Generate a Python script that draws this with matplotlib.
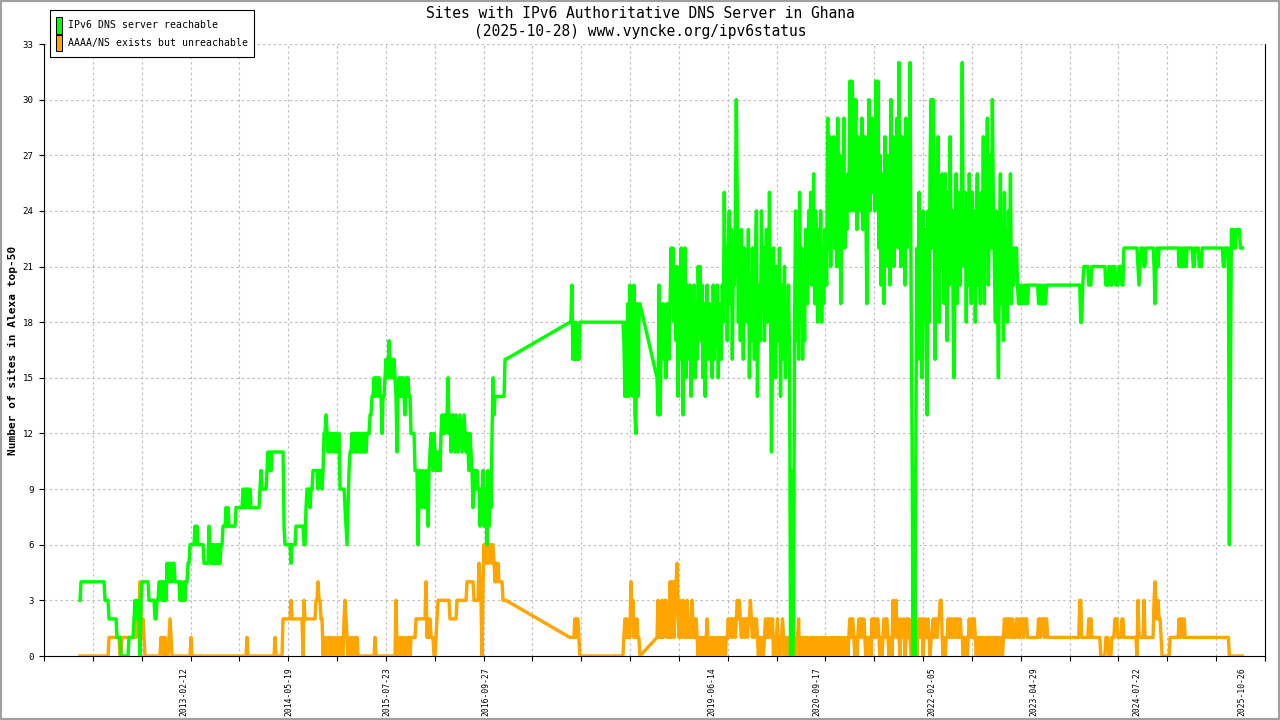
import numpy as np
import pandas as pd
import matplotlib
matplotlib.use("Agg")
import matplotlib.pyplot as plt
import matplotlib.dates as mdates
from matplotlib.patches import Rectangle

W, H = 1280, 720
MONO = ["DejaVu Sans Mono", "DejaVu Sans"]
GREEN = "#00ff00"
ORANGE = "#ffa500"

# the feed has two holes; the original simply joins across them with a straight line
SEG_DATES = [("2011-11-14", "2016-12-25"),
             ("2017-10-01", "2018-08-04"),
             ("2018-10-18", "2025-10-28")]

# values, evenly spaced inside each window
# notation: "v" or "v*n" (v repeated n times)
GREEN_1 = """
3 4*24 3*4 2*8 1*4 0*8 1*5 2 3 2 3 3 2 0 3 4*7 3*6 2*2 3*2 4*3
3 4 3 4 3 5 4 5 4 5 4 5 5 4 4 4*3 3 4 3 3 4 3 4 4 5 5
6*5 7 6 7 6 6*5 5*5 7 6 5 6 5 6 5 5 6 5 6 5 6 6 7 7 7 8 7 8 7 7 7*5 8*7
9 8 9 8 9 9 8 9 8 8 8*7 9 10 9 9 9 9 9 10 11 10 11 10 11 11 11*10
7 6*6 5 6*4 7*8 6 6 8 9 9 9 8 9 9 10 10 10 10 10 9 10 10 10 9 10
12 12 13 12 11 12 11 12 12 11 12 11 12 11 11 12 9*5 8 7 6 8 10 11 11
12 11 12 12 11 12 12 11 12 11 11 12 11 12 11 12 12 12 13 13 14 14
15 14 15 15 14 15 14 14 12 14 14 15 16 15 15 17 16 15 16 15 16 15
14 11 14 15 14 15 14 15 14 13 15 14 15 14 14 12*4 10*3 6
9 10 9 8 10 9 8 10 9 7 10 11 12 11 10 12 11 10 11 10 11 10
12 13 12 13 12 13 13 15 12 13 11 12 13 12 11 13 12 11 12 13 12 11 12 13 12 11 12
11 10 12 11 10 8 9 10 9 10 9 9 7 9 8 10 7 9 8 6 10 7 9 8 12 15 13 14 14*9 16 16
"""
GREEN_2 = """
18 18 20 16 18 16 18 16 17 16 18 18*43
17 14 18 14 19 14 20 16 19 14 20 13 12 19 14 18 19
"""
GREEN_3 = """
15 13 20 13 16 17 19 16 18 15 19 17 16 19 22 19 22 18 21
17 21 14 20 16 22 18 13 19 22 15 20 17
16 20 14 19 17 20 15 18 16 21 19 21 17 20 15 19 14 18 20 16 19 17
18 15 20 16 19 17 20 15 18 19 16 20 18 25 19 22
17 22 24 19 23 16 21 20 24 30 24 18 22 17 23 20 16 22 19 21
18 23 15 20 17 22 19 16 21 24 14 18 20 17
24 19 22 17 21 23 18 20 25 19 11 16 22
18 15 21 19 17 22 14 20 16 19 21 15 18 17 20 16 0 10 0 2 18
24 17 21 16 25 19 22 16 20 17 23 21 19 24 21 25 20 23 26 19 24 22
18 23 20 24 18 22 19 23 21 20 29 22 28 21 26 23 28 22 25 21
29 21 27 19 26 24 29 22 25 23 26 24 31 24 31
30 24 27 30 23 28 25 27 24 29 23 26 28 24 19 25
30 24 27 29 25 28 24 31 26 31
22 27 20 26 24 19 28 22 25 21 27 20 30 23 28 21 26 24 29 22 32 25
21 28 23 26 20 29 22 25 24 32 20 12 0 10 0 14
22 16 25 18 21 15 24 19 23 17 13
24 18 27 30 22 30 26 16 25 20 28 18 24 21 26 23
19 26 22 17 25 20 28 21 24 18 15 23 26 19 25 22 20 24 32 22
21 25 18 24 20 26 22 19 25 21 24 18 23 26 20 22 19
25 21 28 19 26 23 29 20 24 27 22 30 24
21 18 24 20 15 22 26 19 23 17 25 20 22 18 24 21 26 19 22 20 22 21 22
20 19 20 19 20 19 19 20 19 20 19 20 20*9 19 19 20 19 19 20 19 19 20 20*33
18 18 20 21 21*4 20*3 21*14 20*3 21 21 20 20 21*3 20*3 21*3 20 20
22*14 21 20 21 22*3 21 21 22*8 21 19 21 22 21 22 22*19
21 22 21 21 22 21 22 21 22 22*5 21 21 22*4 21 21 21 22 22*20 21 21 22 22*3
6 14 23*3 22 22 23*4 22*3
"""

ORANGE_1 = """
0*29 1*11 0 0 1*13 2 1 2 2 2 4 2 1 2 1 0*16 1 0 1 0 1 0*3 1 2 1 0*19 1
0*55 1 0*27 1 0*7 2*8 3 2*11 0 3 2*11 3 3 4 3 3 2 2
0 1 0 0 1 0 1 1 0 0 1 0 0 1 0 1 0 0 1 0 0 2 3 2 1 0 1 0 1 1 0 0 1 0 1 0 0
0*15 1 0*20 3 0 1 0 0 1 1 0 0 1 0 0 1 1 0 1 1 1 1 1 2*10 4 1 2 1 2 1 1
1 0 0 1 2 3*12 2*7 3*10 4*7 3*5 5 4 3 0 4 6 5 6 6 5 6 6 5 6 6
5 4 5 4 5 4 4 4 4 3 3 3 3
"""
ORANGE_2 = """
1*5 2 1 2 2 1 0 0*43 1 2 1 2 1 1 1 4 2 3 1 2 1 2 1 1 0
"""
ORANGE_3 = """
1 3 1 2 1 3 1 2 3 3 1 2 1 4 1 4 4 1 4 4 5
2 1 3 1 2 3 1 2 1 3 2 1 2 1 3 1 2 1 2 1
0 1 0 1 1 0 1 0 1 2 0 1 0 1 1 0 1 0 0 1 0 1 1 0 1 0 1 0 1 1
2 1 2 2 1 2 2 1 2 3 2 3 2 1 2 2 1 2 2 1 2 2 3 2 1 2 2 1 2 1
0 1 0 1 0 0 1 2 1 2 1 2 2 1 2 0 1 0 1 2 0 1 0 1 2 1 0 1 0 1 0 0 1 0 1 0 1 0 1 1
2 0 1 0 1 1 0 1 0 1 0 0 1 1 0 1 0 1 1 0 0 1 0 1 0 1 1 0 1 0 0 1 0 1 1 0 1 0 1 0 1 1 0 1 0 1 0 0 1 0 1
2 1 2 2 1 0 1 0 1 2 1 2 2 1 2 1 0 1 0 1 1 0 2 1 2 2 1 2 2 1 0 1 0 1 2 1 2 2 1 0 1 1 0 3 1 2 3
1 2 1 0 2 1 1 2 0 1 2 1 2 1 0 1 2 1 2 1 0 2 1 2 1 2 0 1 2 1 1 2 1 0 1 1
2 1 2 2 1 2 2 3 3 1 0 1 0 1 1 2 1 2 2 1 2 1 2 2 1 2 1 2 1 1 0 1 0 1 0 1 2 1 2 2 1 2
1 0 1 0 1 1 0 1 0 1 0 0 1 1 0 1 0 1 0 1 1 0 1 0 1 0 1 0 1 2 1 2 2 1 2 2 1 2 1
1 1 2 2 1 1 2 2 2 1 2 2 2 1*11 2 2 1 2 2 2 1 2 2 1*32 3 3 1 1*6 2 1 2 1*9
0*5 1*3 0*3 1*3 2*3 1*4 2 2 1*13 0 3 1 1*4 3 1 1*8 3 4 3 2 3 2 2 1 0*8 1*9
2 1 2 2 1 2 1*44 0*14
"""

X_LABELS = ["2013-02-12", "2014-05-19", "2015-07-23", "2016-09-27", "2019-06-14",
            "2020-09-17", "2022-02-05", "2023-04-29", "2024-07-22", "2025-10-26"]
Y_TICKS = list(range(0, 34, 3))


def expand(txt):
    out = []
    for tok in txt.split():
        if "*" in tok:
            v, n = tok.split("*")
            out += [int(v)] * int(n)
        else:
            out.append(int(tok))
    return out


def series(parts):
    xs, ys = [], []
    for (a, b), txt in zip(SEG_DATES, parts):
        vals = expand(txt)
        t = pd.date_range(a, b, periods=len(vals))
        xs.append(mdates.date2num(t.to_pydatetime()))
        ys.append(vals)
    return np.concatenate(xs), np.concatenate(ys)


gx, gy = series([GREEN_1, GREEN_2, GREEN_3])
ox, oy = series([ORANGE_1, ORANGE_2, ORANGE_3])

fig = plt.figure(figsize=(W / 100, H / 100), dpi=100)
fig.patch.set_facecolor("white")
ax = fig.add_axes([44 / W, 1 - 656 / H, (1265 - 44) / W, (656 - 44) / H])

ax.plot(ox, oy, color=ORANGE, lw=2.45, zorder=3)
ax.plot(gx, gy, color=GREEN, lw=2.45, zorder=4)

x0 = mdates.date2num(pd.Timestamp("2011-06-09"))
x1 = mdates.date2num(pd.Timestamp("2026-02-04"))
ax.set_xlim(x0, x1)
ax.set_ylim(0, 33)

# 25 equal divisions for ticks + grid, date labels sit on their own dates
ax.set_xticks(np.linspace(x0, x1, 26))
ax.set_xticklabels([])
lab_pos = mdates.date2num(pd.to_datetime(X_LABELS).to_pydatetime())
ax.set_xticks(lab_pos, minor=True)
ax.set_xticklabels(X_LABELS, minor=True, rotation=90, fontsize=5.8,
                   family=MONO)
ax.tick_params(axis="x", which="minor", length=0, pad=8)
ax.tick_params(axis="x", which="major", direction="out", length=3.6,
               width=0.8, color="black")

ax.set_yticks(Y_TICKS)
ax.set_yticklabels([str(v) for v in Y_TICKS], fontsize=6.6, family=MONO)
ax.tick_params(axis="y", direction="out", length=3.6, width=0.8, pad=4)

ax.grid(True, which="major", color="#bdbdbd", linestyle=(0, (2.2, 2.6)),
        linewidth=0.8, zorder=0)
ax.set_axisbelow(True)
for side in ("left", "bottom", "right"):
    ax.spines[side].set_color("black")
    ax.spines[side].set_linewidth(0.8)
ax.spines["top"].set_visible(False)

fig.text(640 / W, 1 - 14 / H, "Sites with IPv6 Authoritative DNS Server in Ghana",
         ha="center", va="center", fontsize=10.5, family=MONO)
fig.text(640 / W, 1 - 31.5 / H, "(2025-10-28) www.vyncke.org/ipv6status",
         ha="center", va="center", fontsize=10.5, family=MONO)
fig.text(13 / W, 1 - 350 / H, "Number of sites in Alexa top-50", rotation=90,
         ha="center", va="center", fontsize=8, fontweight="bold", family=MONO)

# legend box, drawn by hand like the original
fig.add_artist(Rectangle((50 / W, 1 - 57 / H), 204 / W, 47 / H,
                         transform=fig.transFigure, facecolor="white",
                         edgecolor="black", linewidth=0.8, zorder=10))
for i, (col, txt) in enumerate([(GREEN, "IPv6 DNS server reachable"),
                                 (ORANGE, "AAAA/NS exists but unreachable")]):
    yc = 25.5 + i * 17.5
    fig.add_artist(Rectangle((56 / W, 1 - (yc + 8) / H), 6 / W, 16 / H,
                             transform=fig.transFigure, facecolor=col,
                             edgecolor="black", linewidth=0.7, zorder=11))
    fig.text(68 / W, 1 - yc / H, txt, ha="left", va="center", fontsize=7.1,
             family=MONO, zorder=12)

# grey frame around the whole image
fig.add_artist(Rectangle((0, 0), 1, 1, transform=fig.transFigure, fill=False,
                         edgecolor="#a0a0a0", linewidth=3, zorder=20))

fig.savefig("out.png", dpi=100)
